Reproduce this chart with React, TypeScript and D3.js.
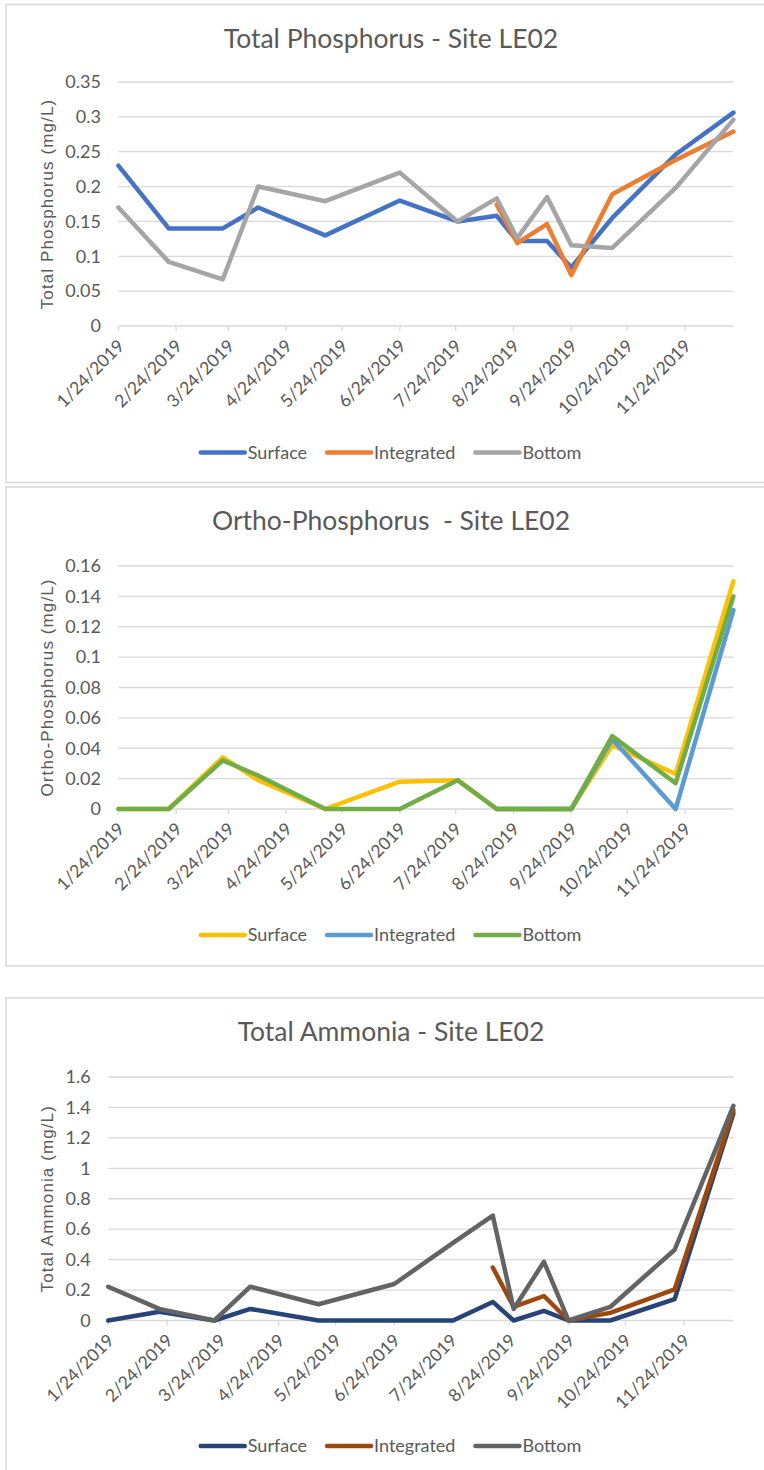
import React, { useEffect, useRef } from 'react';
import * as d3 from 'd3';

// ---------------- data ----------------
const sampleDates = [
  '2019-01-24', '2019-02-20', '2019-03-21', '2019-04-09', '2019-05-15', '2019-06-24', '2019-07-25',
  '2019-08-15', '2019-08-26', '2019-09-11', '2019-09-24', '2019-10-16', '2019-11-19', '2019-12-20',
];
const axisStart = '2019-01-24';
const axisEnd = '2019-12-20';
const xTickLabels = [
  '1/24/2019', '2/24/2019', '3/24/2019', '4/24/2019', '5/24/2019', '6/24/2019',
  '7/24/2019', '8/24/2019', '9/24/2019', '10/24/2019', '11/24/2019',
];
const seriesNames = ['Surface', 'Integrated', 'Bottom'];

// Total Phosphorus (mg/L)
const tpSurface = [0.23, 0.14, 0.14, 0.17, 0.13, 0.18, 0.15, 0.158, 0.122, 0.122, 0.084, 0.155, 0.246, 0.306];
const tpIntegrated = [null, null, null, null, null, null, null, 0.174, 0.119, 0.146, 0.073, 0.189, 0.238, 0.279];
const tpBottom = [0.17, 0.092, 0.067, 0.2, 0.179, 0.22, 0.15, 0.183, 0.126, 0.185, 0.116, 0.112, 0.198, 0.296];
const tpTicks = ['0', '0.05', '0.1', '0.15', '0.2', '0.25', '0.3', '0.35'];

// Ortho-Phosphorus (mg/L)
const opSurface = [0, 0, 0.034, 0.019, 0, 0.018, 0.019, 0, 0, 0, 0, 0.042, 0.023, 0.15];
const opIntegrated = [null, null, null, null, null, null, null, 0, 0, 0, 0, 0.046, 0, 0.131];
const opBottom = [0, 0, 0.032, 0.022, 0, 0, 0.019, 0, 0, 0, 0, 0.048, 0.017, 0.14];
const opTicks = ['0', '0.02', '0.04', '0.06', '0.08', '0.1', '0.12', '0.14', '0.16'];

// Total Ammonia (mg/L)
const nhSurface = [0, 0.058, 0, 0.076, 0, 0, 0, 0.122, 0, 0.063, 0, 0, 0.14, 1.36];
const nhIntegrated = [null, null, null, null, null, null, null, 0.348, 0.09, 0.161, 0, 0.05, 0.205, 1.38];
const nhBottom = [0.222, 0.076, 0, 0.222, 0.107, 0.24, 0.51, 0.689, 0.075, 0.386, 0, 0.089, 0.465, 1.41];
const nhTicks = ['0', '0.2', '0.4', '0.6', '0.8', '1', '1.2', '1.4', '1.6'];

// ---------------- layout / style ----------------
const W = 764;
const H = 1470;
const FONT = "Lato, 'Open Sans', sans-serif";
const TEXT = '#595959';
const GRID = '#d9d9d9';

const charts = [
  {
    title: 'Total Phosphorus - Site LE02',
    yTitle: 'Total Phosphorus (mg/L)',
    series: [tpSurface, tpIntegrated, tpBottom],
    colors: ['#4472C4', '#ED7D31', '#A5A5A5'],
    ticks: tpTicks,
    box: { top: 4.5, bottom: 482.5 },
    plot: { left: 118.4, right: 733.4, top: 82, bottom: 326 },
  },
  {
    title: 'Ortho-Phosphorus  - Site LE02',
    yTitle: 'Ortho-Phosphorus (mg/L)',
    series: [opSurface, opIntegrated, opBottom],
    colors: ['#FFC000', '#5B9BD5', '#70AD47'],
    ticks: opTicks,
    box: { top: 487, bottom: 966 },
    plot: { left: 118.4, right: 733.4, top: 566, bottom: 809 },
  },
  {
    title: 'Total Ammonia - Site LE02',
    yTitle: 'Total Ammonia (mg/L)',
    series: [nhSurface, nhIntegrated, nhBottom],
    colors: ['#264478', '#9E480E', '#636363'],
    ticks: nhTicks,
    box: { top: 998, bottom: 1520 },
    plot: { left: 108.2, right: 733.4, top: 1077, bottom: 1320.5 },
  },
];

export default function App() {
  const ref = useRef<SVGSVGElement | null>(null);

  useEffect(() => {
    document.body.style.margin = '0';
    const svg = d3.select(ref.current);
    svg.selectAll('*').remove();
    const parse = d3.timeParse('%Y-%m-%d');
    const parseTick = d3.timeParse('%m/%d/%Y');
    const dates = sampleDates.map((s) => parse(s) as Date);
    const tickDates = xTickLabels.map((s) => parseTick(s) as Date);
    const centerX = 391;

    charts.forEach((c) => {
      const g = svg.append('g');
      // chart border
      g.append('rect')
        .attr('x', 6)
        .attr('y', c.box.top)
        .attr('width', 800)
        .attr('height', c.box.bottom - c.box.top)
        .attr('fill', '#fff')
        .attr('stroke', GRID)
        .attr('stroke-width', 1.5);

      const x = d3.scaleTime()
        .domain([parse(axisStart) as Date, parse(axisEnd) as Date])
        .range([c.plot.left, c.plot.right]);
      const tickVals = c.ticks.map(Number);
      const y = d3.scaleLinear()
        .domain([0, tickVals[tickVals.length - 1]])
        .range([c.plot.bottom, c.plot.top]);

      // gridlines
      g.append('g')
        .selectAll('line')
        .data(tickVals)
        .join('line')
        .attr('x1', c.plot.left)
        .attr('x2', c.plot.right)
        .attr('y1', (d) => y(d))
        .attr('y2', (d) => y(d))
        .attr('stroke', GRID)
        .attr('stroke-width', 1.3);

      // y tick labels
      g.append('g')
        .selectAll('text')
        .data(c.ticks)
        .join('text')
        .attr('x', c.plot.left - 17.5)
        .attr('y', (d) => y(Number(d)))
        .attr('dy', '0.35em')
        .attr('text-anchor', 'end')
        .attr('font-family', FONT)
        .attr('font-size', 18)
        .attr('fill', TEXT)
        .text((d) => d);

      // x tick marks
      g.append('g')
        .selectAll('line')
        .data(tickDates)
        .join('line')
        .attr('x1', (d) => x(d))
        .attr('x2', (d) => x(d))
        .attr('y1', c.plot.bottom)
        .attr('y2', c.plot.bottom + 5)
        .attr('stroke', GRID)
        .attr('stroke-width', 1.3);

      // x tick labels
      g.append('g')
        .selectAll('text')
        .data(tickDates)
        .join('text')
        .attr('transform', (d) => `translate(${x(d) + 7},${c.plot.bottom + 21}) rotate(-45)`)
        .attr('text-anchor', 'end')
        .attr('font-family', FONT)
        .attr('font-size', 17.5)
        .attr('fill', TEXT)
        .text((d, i) => xTickLabels[i]);

      // title
      g.append('text')
        .attr('x', centerX)
        .attr('y', c.box.top + 43)
        .attr('text-anchor', 'middle')
        .attr('font-family', FONT)
        .attr('font-size', 26.5)
        .attr('fill', TEXT)
        .style('white-space', 'pre')
        .text(c.title);

      // y axis title
      g.append('text')
        .attr('transform', `translate(53,${(c.plot.top + c.plot.bottom) / 2}) rotate(-90)`)
        .attr('text-anchor', 'middle')
        .attr('font-family', "'Liberation Sans', Arial, sans-serif")
        .attr('font-size', 17)
        .attr('letter-spacing', 1.1)
        .attr('fill', TEXT)
        .text(c.yTitle);

      // lines
      const line = d3.line<[Date, number | null]>()
        .defined((d) => d[1] != null)
        .x((d) => x(d[0]))
        .y((d) => y(d[1] as number));
      c.series.forEach((vals, si) => {
        const pts: [Date, number | null][] = dates.map((d, i) => [d, vals[i]]);
        g.append('path')
          .attr('d', line(pts) as string)
          .attr('fill', 'none')
          .attr('stroke', c.colors[si])
          .attr('stroke-width', 4.5)
          .attr('stroke-linejoin', 'round')
          .attr('stroke-linecap', 'round');
      });

      // legend
      const legY = c.box.top + 448;
      const lg = g.append('g');
      let cx = 0;
      seriesNames.forEach((name, si) => {
        lg.append('line')
          .attr('x1', cx)
          .attr('x2', cx + 44)
          .attr('y1', legY)
          .attr('y2', legY)
          .attr('stroke', c.colors[si])
          .attr('stroke-width', 4.5)
          .attr('stroke-linecap', 'round');
        const t = lg.append('text')
          .attr('x', cx + 47)
          .attr('y', legY)
          .attr('dy', '0.35em')
          .attr('font-family', FONT)
          .attr('font-size', 18)
          .attr('fill', TEXT)
          .text(name);
        const tw = (t.node() as SVGTextElement).getComputedTextLength();
        cx += 47 + tw + (si < seriesNames.length - 1 ? 20 : 0);
      });
      lg.attr('transform', `translate(${centerX - cx / 2},0)`);
    });
  }, []);

  return (
    <svg
      ref={ref}
      width={W}
      height={H}
      style={{ display: 'block', position: 'absolute', left: 0, top: 0, background: '#fff' }}
    />
  );
}
